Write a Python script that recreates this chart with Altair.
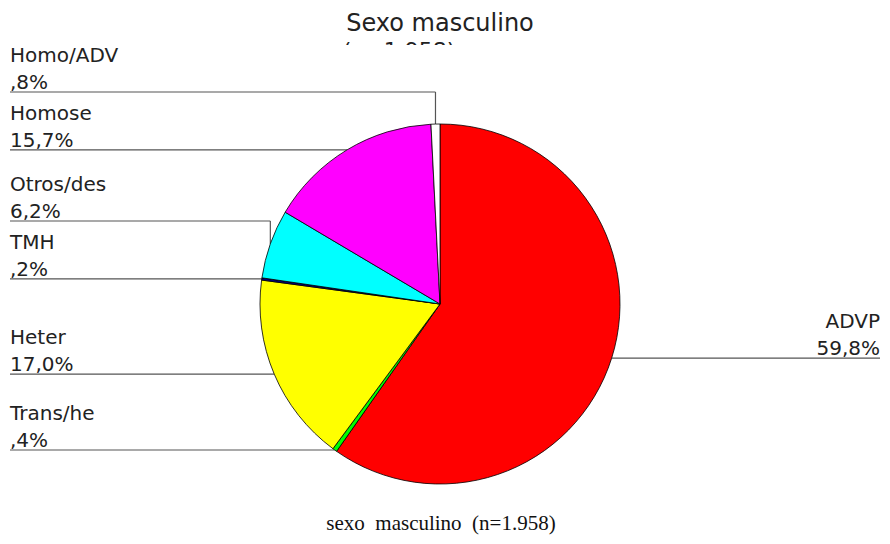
import math
import altair as alt
import pandas as pd

# ---- data ----
categories = ["ADVP", "Trans/he", "Heter", "TMH", "Otros/des", "Homose", "Homo/ADV"]
values = [59.8, 0.4, 17.0, 0.2, 6.2, 15.7, 0.8]
colors = ["#FF0000", "#00FF00", "#FFFF00", "#000080", "#00FFFF", "#FF00FF", "#FFFFFF"]
title_text = "Sexo masculino"
subtitle_text = "(n=1.958)"
caption_text = "sexo\u00a0\u00a0masculino\u00a0\u00a0(n=1.958)"

# ---- layout (chart pixel coordinates) ----
W, H = 874, 528
CX, CY, R = 432, 296, 180
LEFT_X = 2
RIGHT_X = 872
elbow_y = {"Homo/ADV": 84, "Otros/des": 213}


def fmt(v):
    s = f"{v:.1f}".replace(".", ",")
    if s.startswith("0,"):
        s = s[1:]
    return s + "%"


total = sum(values)
pie_df = pd.DataFrame({"category": categories, "value": values,
                       "order": list(range(len(values)))})

segs = []
texts = []
cum = 0.0
for cat, v in zip(categories, values):
    mid = (cum + v / 2) / total * 2 * math.pi
    cum += v
    px = CX + R * math.sin(mid)
    py = CY - R * math.cos(mid)
    pct = fmt(v)
    if px > CX:  # right side label
        ly = py
        segs.append(dict(x=px, y=ly, x2=RIGHT_X, y2=ly))
        texts.append(dict(x=RIGHT_X, y=ly - 30, t=cat, a="right"))
        texts.append(dict(x=RIGHT_X, y=ly - 3, t=pct, a="right"))
    else:
        if cat in elbow_y:
            ly = elbow_y[cat]
            segs.append(dict(x=LEFT_X, y=ly, x2=px, y2=ly))
            segs.append(dict(x=px, y=ly, x2=px, y2=py))
        else:
            ly = py
            segs.append(dict(x=LEFT_X, y=ly, x2=px, y2=ly))
        texts.append(dict(x=LEFT_X, y=ly - 30, t=cat, a="left"))
        texts.append(dict(x=LEFT_X, y=ly - 3, t=pct, a="left"))

seg_df = pd.DataFrame(segs)
txt_df = pd.DataFrame(texts)

pie = alt.Chart(pie_df).mark_arc(outerRadius=R, stroke="black", strokeWidth=0.8).encode(
    theta=alt.Theta("value:Q", stack=True),
    order=alt.Order("order:Q"),
    color=alt.Color("category:N", scale=alt.Scale(domain=categories, range=colors), legend=None),
    x=alt.value(CX),
    y=alt.value(CY),
)

rules = alt.Chart(seg_df).mark_rule(color="#555555", strokeWidth=1.2).encode(
    x=alt.X("x:Q", scale=None, axis=None),
    y=alt.Y("y:Q", scale=None, axis=None),
    x2="x2:Q",
    y2="y2:Q",
)

left_txt = alt.Chart(txt_df[txt_df.a == "left"]).mark_text(
    align="left", baseline="alphabetic", font="DejaVu Sans", fontSize=20, color="#222222"
).encode(
    x=alt.X("x:Q", scale=None, axis=None),
    y=alt.Y("y:Q", scale=None, axis=None),
    text="t:N",
)
right_txt = alt.Chart(txt_df[txt_df.a == "right"]).mark_text(
    align="right", baseline="alphabetic", font="DejaVu Sans", fontSize=20, color="#222222"
).encode(
    x=alt.X("x:Q", scale=None, axis=None),
    y=alt.Y("y:Q", scale=None, axis=None),
    text="t:N",
)

head_df = pd.DataFrame({"t": [title_text]})
title = alt.Chart(head_df).mark_text(
    align="center", baseline="alphabetic", font="DejaVu Sans", fontSize=24, color="#222222"
).encode(x=alt.value(432), y=alt.value(23), text="t:N")

sub_df = pd.DataFrame({"t": [subtitle_text]})
subtitle = alt.Chart(sub_df).mark_text(
    align="center", baseline="alphabetic", font="DejaVu Sans", fontSize=22, color="#222222"
).encode(x=alt.value(391), y=alt.value(50), text="t:N")

cover = alt.Chart(sub_df).mark_rect(color="white").encode(
    x=alt.value(320), x2=alt.value(480), y=alt.value(37), y2=alt.value(62)
)

cap_df = pd.DataFrame({"t": [caption_text]})
caption = alt.Chart(cap_df).mark_text(
    align="center", baseline="alphabetic", font="Liberation Serif", fontSize=21, color="#111111"
).encode(x=alt.value(433), y=alt.value(522), text="t:N")

chart = alt.layer(subtitle, cover, title, rules, pie, left_txt, right_txt, caption).properties(
    width=W, height=H, autosize=alt.AutoSizeParams(type="none"), padding=0
).configure_view(stroke=None)

chart.save("out.html", embed_options={"renderer": "svg", "actions": False})
